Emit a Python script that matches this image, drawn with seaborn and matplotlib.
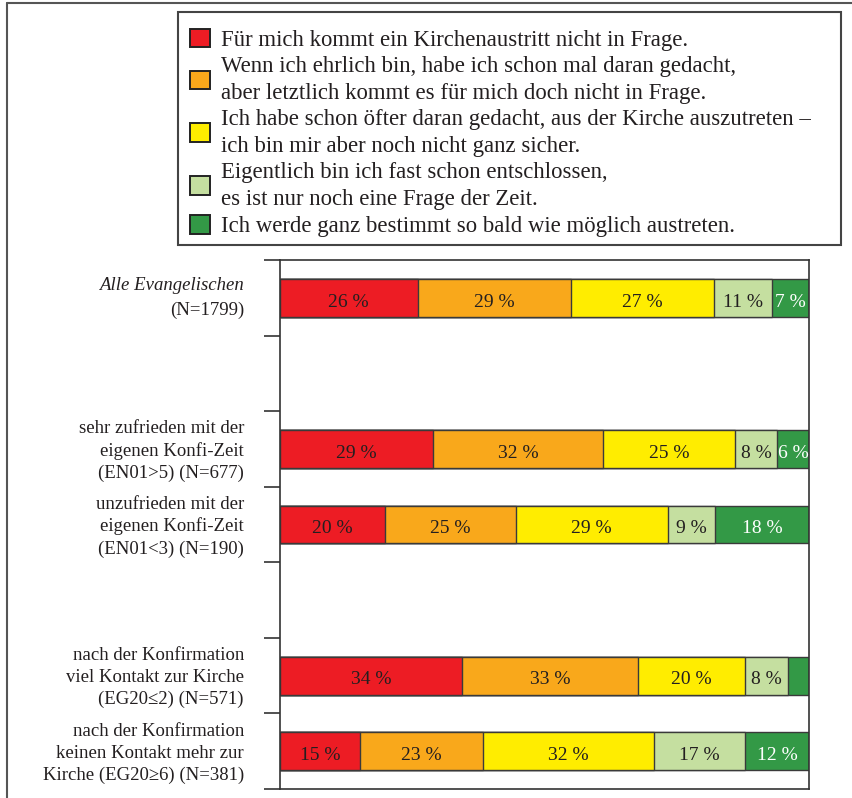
import matplotlib
matplotlib.use("Agg")
import matplotlib.pyplot as plt
import seaborn as sns
import pandas as pd
import numpy as np
from matplotlib.patches import Patch, Rectangle
from matplotlib.lines import Line2D
import matplotlib.transforms as mtransforms

# ---------------- data ----------------
groups = [
    "Alle Evangelischen",
    "sehr zufrieden mit der\neigenen Konfi-Zeit\n(EN01>5) (N=677)",
    "unzufrieden mit der\neigenen Konfi-Zeit\n(EN01<3) (N=190)",
    "nach der Konfirmation\nviel Kontakt zur Kirche\n(EG20≤2) (N=571)",
    "nach der Konfirmation\nkeinen Kontakt mehr zur\nKirche (EG20≥6) (N=381)",
]
alle_sub = "(N=1799)"
# slot order on the y axis (two empty slots as gaps)
slot_order = ["g0", "gap1", "g1", "g2", "gap2", "g3", "g4"]
group_keys = ["g0", "g1", "g2", "g3", "g4"]

answers = [
    "Für mich kommt ein Kirchenaustritt nicht in Frage.",
    "Wenn ich ehrlich bin, habe ich schon mal daran gedacht,\naber letztlich kommt es für mich doch nicht in Frage.",
    "Ich habe schon öfter daran gedacht, aus der Kirche auszutreten –\nich bin mir aber noch nicht ganz sicher.",
    "Eigentlich bin ich fast schon entschlossen,\nes ist nur noch eine Frage der Zeit.",
    "Ich werde ganz bestimmt so bald wie möglich austreten.",
]
red_vals = [26, 29, 20, 34, 15]
orange_vals = [29, 32, 25, 33, 23]
yellow_vals = [27, 25, 29, 20, 32]
lightgreen_vals = [11, 8, 9, 8, 17]
darkgreen_vals = [7, 6, 18, 4, 12]

colors = ["#ED1C24", "#F9A81B", "#FFED00", "#C5DFA0", "#339946"]
text_colors = ["#231F20", "#231F20", "#231F20", "#231F20", "#FFFFFF"]

# ---------------- build table ----------------
vals = np.array([red_vals, orange_vals, yellow_vals, lightgreen_vals, darkgreen_vals], dtype=float)
row_sums = vals.sum(axis=0)
shares = vals / row_sums * 100.0
cum = np.cumsum(shares, axis=0)

df = pd.DataFrame({"group": group_keys})
for i in range(5):
    df[f"cum{i}"] = cum[i]

# ---------------- figure ----------------
sns.set_theme(style="white")
plt.rcParams["font.family"] = ["Liberation Serif", "DejaVu Serif"]

W, H = 852, 798
fig = plt.figure(figsize=(W / 100, H / 100), dpi=100)
ax = fig.add_axes([280 / W, 1 - 789 / H, (809 - 280) / W, (789 - 260) / H])

edge = "#3a3a3a"
for i in reversed(range(5)):
    sns.barplot(data=df, y="group", x=f"cum{i}", order=slot_order, orient="y",
                color=colors[i], saturation=1, width=0.5,
                edgecolor=edge, linewidth=1.0, ax=ax)

# segment labels
slot_pos = {k: slot_order.index(k) for k in group_keys}
for j, key in enumerate(group_keys):
    y = slot_pos[key]
    for i in range(5):
        v = vals[i, j]
        if v < 5:
            continue
        xc = cum[i, j] - shares[i, j] / 2
        ax.annotate(f"{int(v)} %", xy=(xc, y), xycoords="data",
                    xytext=(0, -6.3), textcoords="offset points",
                    ha="center", va="baseline",
                    fontsize=14, color=text_colors[i])

ax.set_xlim(0, 100)
ax.set_ylim(6.5, -0.5)
ax.set_xlabel("")
ax.set_ylabel("")
ax.set_xticks([])
ax.set_yticks(np.arange(-0.5, 7.0, 1.0))
ax.set_yticklabels([])
ax.tick_params(axis="y", which="major", direction="out", length=11.5, width=1.2,
               color="#333333", left=True)
for s in ax.spines.values():
    s.set_visible(True)
    s.set_color("#333333")
    s.set_linewidth(1.2)

# category labels
trans = mtransforms.blended_transform_factory(ax.transAxes, ax.transData)
xlab = (244 - 280) / (809 - 280)
for j, key in enumerate(group_keys):
    y = slot_pos[key]
    if j == 0:
        ax.annotate(groups[0], xy=(xlab, y), xycoords=trans, xytext=(0, 9),
                    textcoords="offset points", ha="right", va="center",
                    fontsize=13.5, style="italic", color="#231F20")
        ax.annotate(alle_sub, xy=(xlab, y), xycoords=trans, xytext=(0, -9),
                    textcoords="offset points", ha="right", va="center",
                    fontsize=13.5, color="#231F20")
    else:
        ax.annotate(groups[j], xy=(xlab, y), xycoords=trans, xytext=(0, -1.5),
                    textcoords="offset points", ha="right", va="center",
                    multialignment="right", fontsize=13.5, linespacing=1.36,
                    color="#231F20")

# legend (frame drawn separately)
handles = [Patch(facecolor=c, edgecolor="#222222", linewidth=1.4) for c in colors]
leg = fig.legend(handles, answers, loc="upper left",
                 bbox_to_anchor=(185 / W, 1 - 24 / H), frameon=False,
                 fontsize=16.4, handlelength=0.9, handleheight=0.9,
                 handletextpad=0.5, labelspacing=0.22, borderpad=0.2,
                 borderaxespad=0)
for t in leg.get_texts():
    t.set_color("#231F20")
    t.set_linespacing(1.37)
fig.add_artist(Rectangle((178 / W, 1 - 245 / H), (841 - 178) / W, (245 - 12) / H,
                         transform=fig.transFigure, facecolor="none",
                         edgecolor="#444444", linewidth=1.5, zorder=0))

# outer frame (top and left lines)
fig.add_artist(Line2D([7 / W, 1], [1 - 3 / H, 1 - 3 / H], transform=fig.transFigure,
                      color="#555555", linewidth=1.5))
fig.add_artist(Line2D([7 / W, 7 / W], [0, 1 - 3 / H], transform=fig.transFigure,
                      color="#555555", linewidth=1.5))

fig.savefig("out.png", dpi=100)
